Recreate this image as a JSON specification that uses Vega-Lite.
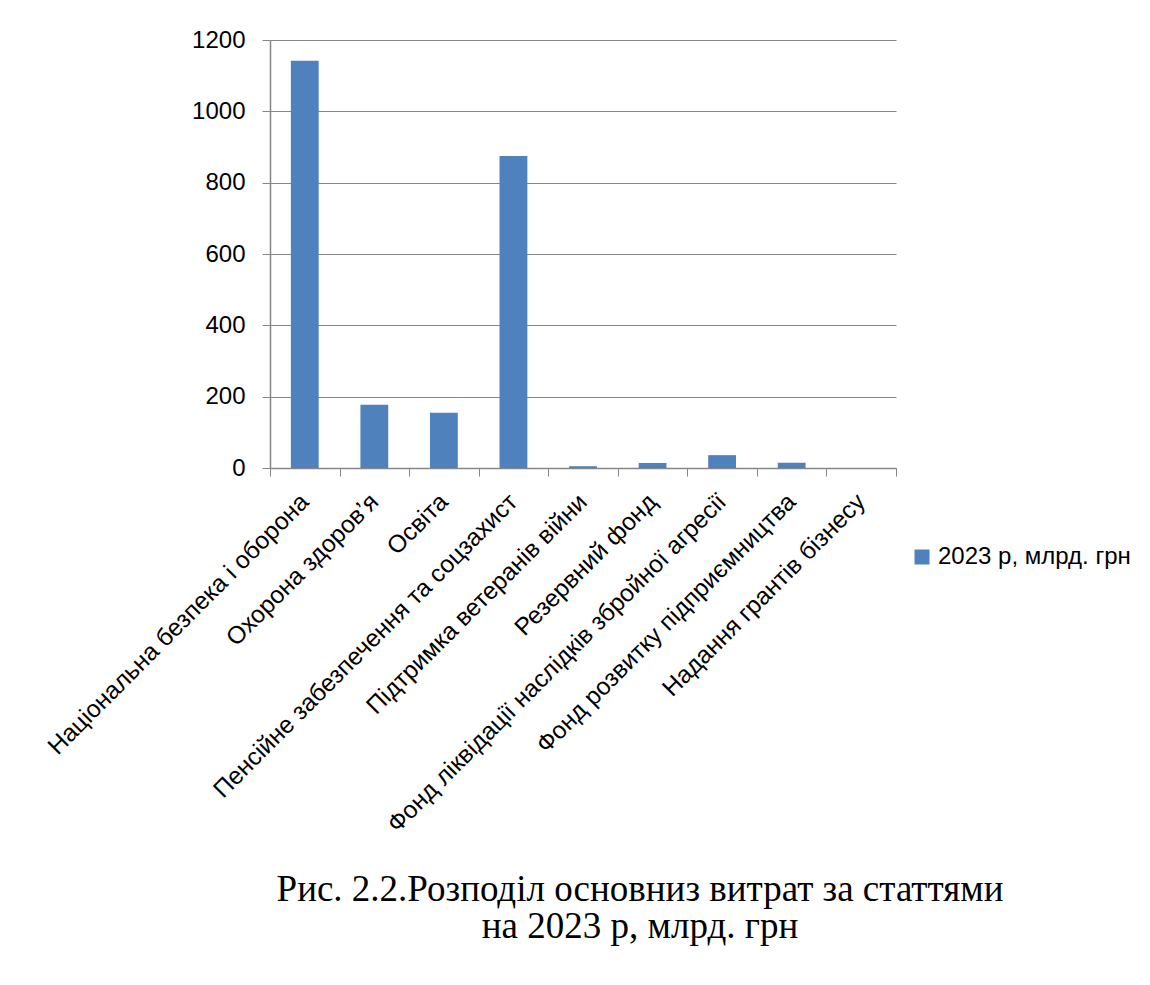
{
  "$schema": "https://vega.github.io/schema/vega-lite/v6.json",
  "autosize": {"type": "none"},
  "width": 626,
  "height": 428,
  "padding": {"left": 270, "top": 40, "right": 254, "bottom": 517},
  "background": "white",
  "data": {
    "values": [
      {"category": "Національна безпека і оборона", "value": 1142, "series": "2023 р, млрд. грн"},
      {"category": "Охорона здоров’я", "value": 177, "series": "2023 р, млрд. грн"},
      {"category": "Освіта", "value": 155, "series": "2023 р, млрд. грн"},
      {"category": "Пенсійне забезпечення та соцзахист", "value": 875, "series": "2023 р, млрд. грн"},
      {"category": "Підтримка ветеранів війни", "value": 5, "series": "2023 р, млрд. грн"},
      {"category": "Резервний фонд", "value": 14, "series": "2023 р, млрд. грн"},
      {"category": "Фонд ліквідації наслідків збройної агресії", "value": 36, "series": "2023 р, млрд. грн"},
      {"category": "Фонд розвитку підприємництва", "value": 15, "series": "2023 р, млрд. грн"},
      {"category": "Надання грантів бізнесу", "value": 0, "series": "2023 р, млрд. грн"}
    ]
  },
  "title": {
    "text": ["Рис. 2.2.Розподіл основниз витрат за статтями", "на 2023 р, млрд. грн"],
    "orient": "bottom",
    "anchor": "middle",
    "frame": "group",
    "dx": 57,
    "offset": 35,
    "font": "Liberation Serif",
    "fontSize": 37,
    "fontWeight": "normal",
    "color": "#000000",
    "lineHeight": 37
  },
  "mark": {"type": "bar", "color": "#4F81BD", "width": {"band": 0.4}},
  "encoding": {
    "x": {
      "field": "category",
      "type": "nominal",
      "sort": null,
      "scale": {"paddingInner": 0, "paddingOuter": 0},
      "axis": {
        "title": null,
        "labelAngle": -45,
        "labelAlign": "right",
        "labelBaseline": "middle",
        "labelFont": "Liberation Sans",
        "labelFontSize": 24.5,
        "labelColor": "#000000",
        "labelPadding": 22,
        "labelLimit": 0,
        "tickBand": "extent",
        "tickSize": 8,
        "tickColor": "#868686",
        "domainColor": "#868686",
        "domainWidth": 1.5,
        "grid": false
      }
    },
    "y": {
      "field": "value",
      "type": "quantitative",
      "scale": {"domain": [0, 1200]},
      "axis": {
        "title": null,
        "values": [0, 200, 400, 600, 800, 1000, 1200],
        "format": "d",
        "labelFont": "Liberation Sans",
        "labelFontSize": 24,
        "labelColor": "#000000",
        "labelPadding": 17,
        "tickSize": 8,
        "tickColor": "#868686",
        "domainColor": "#868686",
        "domainWidth": 1.5,
        "grid": true,
        "gridColor": "#868686",
        "gridWidth": 1.2
      }
    },
    "color": {
      "field": "series",
      "type": "nominal",
      "scale": {"range": ["#4F81BD"]},
      "legend": {
        "title": null,
        "orient": "none",
        "legendX": 640,
        "legendY": 505,
        "symbolType": "square",
        "symbolSize": 225,
        "symbolStrokeWidth": 0,
        "labelFont": "Liberation Sans",
        "labelFontSize": 24,
        "labelColor": "#000000",
        "labelOffset": 4,
        "labelLimit": 0
      }
    }
  },
  "config": {"view": {"stroke": null}}
}
